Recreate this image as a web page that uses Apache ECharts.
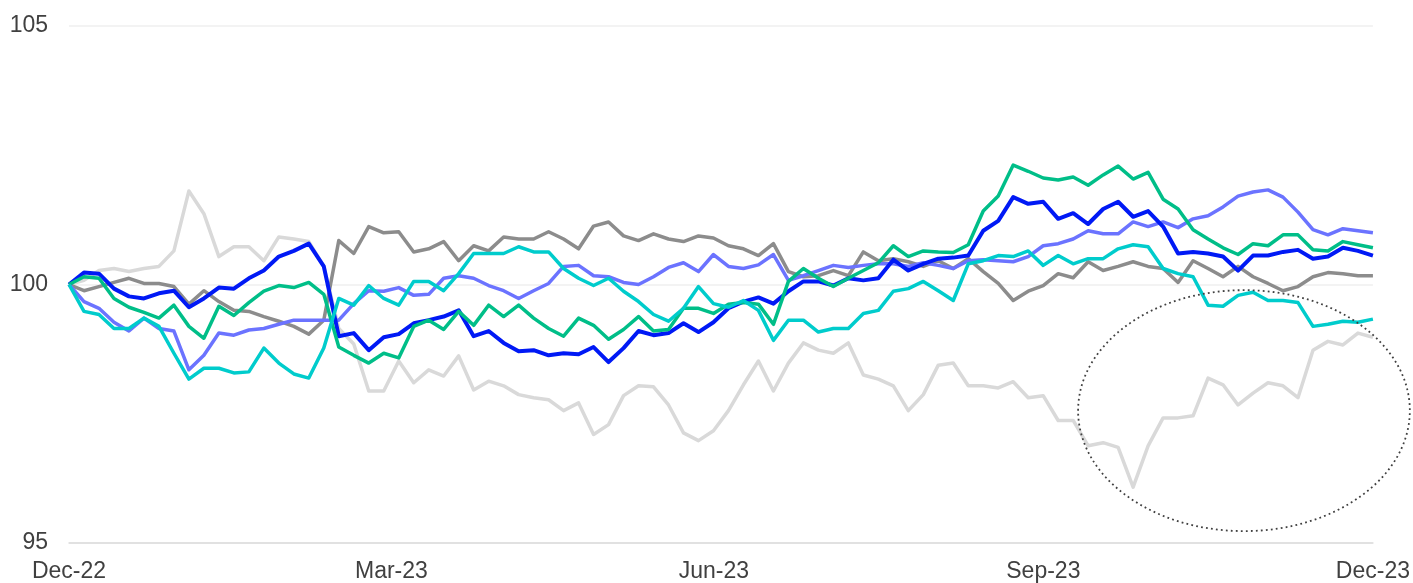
<!DOCTYPE html>
<html>
<head>
<meta charset="utf-8">
<script src="https://cdn.jsdelivr.net/npm/echarts@6/dist/echarts.min.js"></script>
<style>
    html, body { margin: 0; padding: 0; background: #fff; }
    #main { width: 1413px; height: 583px; }
</style>
</head>
<body>
<div id="main"></div>
<script>
// first and last sample date, samples are evenly spaced in between
const startDate = '2022-12-30';
const endDate = '2023-12-29';

const tickLabels = ['Dec-22', 'Mar-23', 'Jun-23', 'Sep-23', 'Dec-23'];
const tickDates = ['2022-12-30', '2023-03-30', '2023-06-28', '2023-09-28', '2023-12-29'];

const lightGrey = [100.00,100.08,100.27,100.31,100.25,100.31,100.35,100.65,101.81,101.37,
    100.54,100.73,100.73,100.46,100.92,100.88,100.83,100.35,99.15,98.85,
    97.94,97.94,98.52,98.10,98.35,98.23,98.62,97.96,98.13,98.04,
    97.87,97.81,97.77,97.56,97.71,97.10,97.29,97.85,98.04,98.02,
    97.67,97.13,96.98,97.17,97.56,98.06,98.52,97.94,98.48,98.87,
    98.73,98.67,98.87,98.25,98.17,98.04,97.56,97.87,98.44,98.48,
    98.04,98.04,98.00,98.12,97.81,97.85,97.37,97.37,96.88,96.94,
    96.85,96.08,96.88,97.42,97.42,97.46,98.19,98.06,97.67,97.90,
    98.10,98.04,97.81,98.73,98.90,98.83,99.06,98.98];

const grey = [100.00,99.88,99.96,100.04,100.12,100.02,100.02,99.96,99.62,99.88,
    99.67,99.50,99.48,99.38,99.29,99.19,99.04,99.31,100.85,100.60,
    101.12,101.00,101.02,100.63,100.69,100.83,100.46,100.75,100.65,100.92,
    100.88,100.88,101.02,100.88,100.69,101.13,101.21,100.94,100.85,100.98,
    100.88,100.83,100.94,100.90,100.75,100.69,100.56,100.79,100.25,100.15,
    100.17,100.27,100.17,100.63,100.46,100.50,100.44,100.35,100.46,100.31,
    100.50,100.25,100.02,99.69,99.87,99.98,100.21,100.13,100.44,100.27,
    100.35,100.44,100.35,100.31,100.04,100.46,100.31,100.15,100.35,100.15,
    100.02,99.88,99.96,100.15,100.23,100.21,100.17,100.17];

const periwinkle = [100.00,99.67,99.54,99.27,99.10,99.35,99.15,99.10,98.35,98.63,
    99.06,99.02,99.12,99.15,99.23,99.31,99.31,99.31,99.31,99.63,
    99.88,99.87,99.94,99.79,99.81,100.12,100.17,100.12,99.98,99.88,
    99.73,99.88,100.02,100.35,100.37,100.17,100.15,100.04,100.00,100.15,
    100.33,100.42,100.25,100.58,100.35,100.31,100.38,100.58,100.08,100.17,
    100.27,100.37,100.33,100.37,100.40,100.40,100.35,100.42,100.37,100.31,
    100.46,100.48,100.46,100.44,100.54,100.75,100.79,100.88,101.04,100.98,
    100.98,101.21,101.12,101.21,101.10,101.27,101.33,101.50,101.71,101.79,
    101.83,101.69,101.40,101.06,100.96,101.08,101.04,101.00];

const blue = [100.00,100.23,100.21,99.92,99.77,99.73,99.83,99.88,99.56,99.73,
    99.94,99.92,100.12,100.27,100.54,100.65,100.79,100.35,99.00,99.06,
    98.73,98.98,99.04,99.25,99.31,99.38,99.50,99.00,99.10,98.87,
    98.71,98.73,98.63,98.67,98.65,98.79,98.50,98.77,99.10,99.02,
    99.06,99.25,99.08,99.27,99.54,99.67,99.75,99.63,99.87,100.06,
    100.06,99.98,100.12,100.08,100.12,100.48,100.27,100.40,100.50,100.52,
    100.56,101.04,101.23,101.69,101.56,101.60,101.27,101.38,101.17,101.46,
    101.60,101.31,101.42,101.12,100.60,100.63,100.60,100.54,100.27,100.56,
    100.56,100.63,100.67,100.50,100.54,100.71,100.65,100.56];

const green = [100.00,100.15,100.12,99.73,99.56,99.46,99.35,99.60,99.19,98.96,
    99.58,99.40,99.65,99.87,99.98,99.94,100.04,99.81,98.79,98.63,
    98.48,98.67,98.58,99.19,99.31,99.13,99.48,99.21,99.60,99.38,
    99.60,99.35,99.15,99.00,99.35,99.21,98.94,99.13,99.38,99.10,
    99.13,99.54,99.54,99.44,99.62,99.65,99.62,99.23,100.06,100.31,
    100.12,99.96,100.12,100.27,100.42,100.75,100.54,100.65,100.63,100.62,
    100.77,101.42,101.71,102.31,102.19,102.06,102.02,102.08,101.92,102.12,
    102.29,102.04,102.17,101.65,101.46,101.06,100.88,100.71,100.58,100.79,
    100.75,100.96,100.96,100.67,100.65,100.83,100.77,100.71];

const cyan = [100.00,99.48,99.42,99.15,99.15,99.35,99.19,98.67,98.17,98.38,
    98.38,98.29,98.31,98.77,98.48,98.27,98.19,98.77,99.73,99.60,
    99.98,99.73,99.60,100.06,100.06,99.88,100.21,100.60,100.60,100.60,
    100.73,100.63,100.63,100.31,100.12,99.98,100.12,99.87,99.67,99.42,
    99.29,99.54,99.96,99.63,99.56,99.69,99.50,98.92,99.31,99.31,
    99.08,99.15,99.15,99.44,99.50,99.87,99.92,100.06,99.88,99.69,
    100.40,100.46,100.56,100.54,100.65,100.37,100.56,100.40,100.50,100.50,
    100.69,100.77,100.73,100.31,100.21,100.15,99.60,99.58,99.79,99.85,
    99.69,99.69,99.65,99.19,99.23,99.29,99.27,99.33];

// dotted ellipse drawn round the last quarter, in data units
const highlight = { centerDate: '2023-11-23', centerValue: 97.56, radiusDays: 46.3, radiusValue: 2.33 };

const DAY = 24 * 3600 * 1000;
function dayOf(d) {
    return Math.round((new Date(d) - new Date(startDate)) / DAY);
}
const spanDays = dayOf(endDate);
function withDays(values) {
    return values.map(function (v, i) {
        return [i * spanDays / (values.length - 1), v];
    });
}
const tickDays = tickDates.map(dayOf);

const fontFamily = 'Arial, "Liberation Sans", sans-serif';

function lineSeries(name, values, color, width) {
    return {
        name: name,
        type: 'line',
        data: withDays(values),
        showSymbol: false,
        symbol: 'none',
        lineStyle: { color: color, width: width, join: 'round' },
        emphasis: { disabled: true }
    };
}

const chart = echarts.init(document.getElementById('main'));

chart.setOption({
    animation: false,
    backgroundColor: '#ffffff',
    grid: { left: 69, right: 38, top: 26, bottom: 38, containLabel: false },
    xAxis: {
        type: 'value',
        min: 0,
        max: spanDays,
        splitLine: { show: false },
        axisTick: { show: false },
        axisLine: { show: true, lineStyle: { color: '#dcdcdc', width: 1.5 } },
        axisLabel: {
            customValues: tickDays,
            color: '#404040',
            fontSize: 23,
            fontFamily: fontFamily,
            margin: 17,
            formatter: function (val) {
                const idx = tickDays.indexOf(Math.round(val));
                return idx >= 0 ? tickLabels[idx] : '';
            }
        }
    },
    yAxis: {
        type: 'value',
        min: 95,
        max: 105,
        interval: 5,
        axisLine: { show: false },
        axisTick: { show: false },
        splitLine: { lineStyle: { color: '#efefef', width: 1.5 } },
        axisLabel: {
            color: '#404040',
            fontSize: 23,
            fontFamily: fontFamily,
            margin: 21
        }
    },
    series: [
        lineSeries('Light grey', lightGrey, '#d9d9d9', 3.5),
        lineSeries('Grey', grey, '#8c8c8c', 3.5),
        lineSeries('Periwinkle', periwinkle, '#6b73ff', 3.5),
        lineSeries('Blue', blue, '#0019f5', 4),
        lineSeries('Green', green, '#00be88', 3.5),
        lineSeries('Cyan', cyan, '#00cccc', 3.5)
    ]
});

const centerDay = dayOf(highlight.centerDate);
const c = chart.convertToPixel({ gridIndex: 0 }, [centerDay, highlight.centerValue]);
const e = chart.convertToPixel({ gridIndex: 0 }, [centerDay + highlight.radiusDays, highlight.centerValue + highlight.radiusValue]);

chart.setOption({
    graphic: [{
        type: 'ellipse',
        z: 100,
        silent: true,
        shape: { cx: c[0], cy: c[1], rx: e[0] - c[0], ry: c[1] - e[1] },
        style: { fill: 'none', stroke: '#404040', lineWidth: 1.8, lineDash: [1.8, 3.2] }
    }]
});
</script>
</body>
</html>
